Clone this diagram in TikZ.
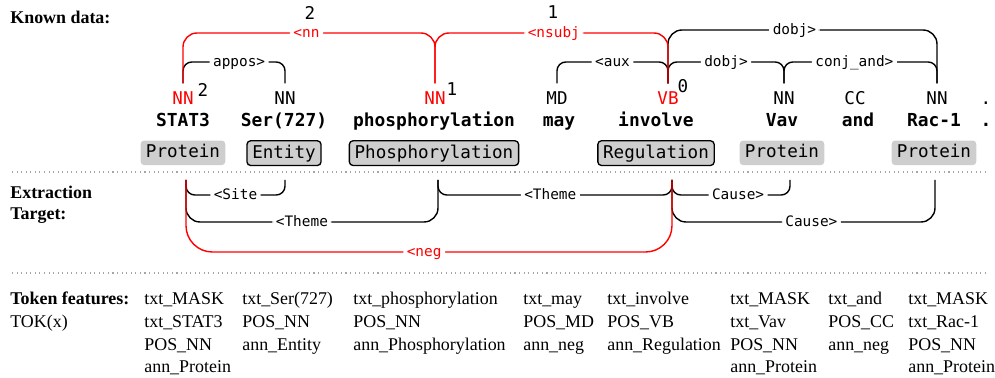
\documentclass[tikz,border=0pt]{standalone}
\usepackage{fontspec}
\setmainfont{Liberation Serif}
\setmonofont{DejaVu Sans Mono}
\usetikzlibrary{positioning}
\definecolor{boxgray}{RGB}{206,206,206}
\tikzset{
  tagtxt/.style={font=\ttfamily\fontsize{10}{12}\selectfont, anchor=base, inner sep=1pt, outer sep=4pt},
  word/.style={font=\ttfamily\bfseries\fontsize{10.2}{12}\selectfont, anchor=base, inner sep=1pt,
    text height=0.75em, text depth=0.2em},
  ent/.style={font=\ttfamily\fontsize{10}{12}\selectfont, rounded corners=2pt, fill=boxgray,
    inner xsep=3pt, inner ysep=2.2pt, text height=7.6pt, text depth=2pt},
  trig/.style={ent, draw=black, line width=0.75pt},
  arc/.style={line width=0.8pt, rounded corners=5pt},
  hiarc/.style={rounded corners=8pt},
  lab/.style={font=\ttfamily\fontsize{8.2}{10}\selectfont, fill=white, inner xsep=2pt, inner ysep=1pt,
    text height=0.7em, text depth=0.2em},
  num/.style={font=\ttfamily\fontsize{10}{12}\selectfont, inner sep=0pt},
  hdr/.style={font=\bfseries\fontsize{10.2}{12}\selectfont, align=left, anchor=north west, inner sep=0pt},
  feat/.style={font=\fontsize{10.2}{13}\selectfont, align=left, anchor=north west, inner sep=0pt},
  sep/.style={dotted, gray!70, line width=0.6pt}
}
\begin{document}
\begin{tikzpicture}[x=0.02cm, y=-0.02cm]
  \useasboundingbox (0,0) rectangle (995,378);

  % row headers
  \node[hdr, anchor=base west] (hKnown) at (10,24) {Known data:};
  \node[hdr] (hTarget) at (10,183) {\strut Extraction\\Target:};
  \node[feat] (hTok) at (10,288) {\strut\textbf{Token features:}\\TOK(x)};

  % POS tags
  \node[tagtxt, red] (tSTAT) at (183,105) {NN};
  \node[tagtxt] (tSer) at (285,105) {NN};
  \node[tagtxt, red] (tPhos) at (435,105) {NN};
  \node[tagtxt] (tMay) at (557,105) {MD};
  \node[tagtxt, red] (tInv) at (668,105) {VB};
  \node[tagtxt] (tVav) at (784,105) {NN};
  \node[tagtxt] (tAnd) at (855,105) {CC};
  \node[tagtxt] (tRac) at (937,105) {NN};
  \node[tagtxt] (tDot) at (986,105) {.};

  % depth numbers
  \node[num] (dSTAT) at (203,90) {2};
  \node[num] (dPhos) at (452,89) {1};
  \node[num] (dInv) at (683,86) {0};

  % words
  \node[word] (wSTAT) at (183,127) {STAT3};
  \node[word] (wSer) at (284,127) {Ser(727)};
  \node[word] (wPhos) at (434,127) {phosphorylation};
  \node[word] (wMay) at (559,127) {may};
  \node[word] (wInv) at (656,127) {involve};
  \node[word] (wVav) at (782,127) {Vav};
  \node[word] (wAnd) at (858,127) {and};
  \node[word] (wRac) at (934,127) {Rac-1};
  \node[word] (wDot) at (986,127) {.};

  % annotations
  \node[ent, below=4.3pt of wSTAT] (eSTAT) {Protein};
  \node[trig, below=4.3pt of wSer] (eSer) {Entity};
  \node[trig, below=4.3pt of wPhos] (ePhos) {Phosphorylation};
  \node[trig, below=4.3pt of wInv] (eInv) {Regulation};
  \node[ent, below=4.3pt of wVav] (eVav) {Protein};
  \node[ent, below=4.3pt of wRac] (eRac) {Protein};

  \draw[sep] (12,172) -- (988,172);
  \draw[sep] (12,273) -- (988,273);

  % dependency arcs
  \coordinate (hiR) at (0,33);
  \coordinate (hiB) at (0,30);
  \coordinate (lo) at (0,62);
  \draw[arc] (tSTAT.north) -- (tSTAT.north |- lo) -- node[lab, pos=.55] (lAppos) {appos>} (tSer.north |- lo) -- (tSer.north);
  \draw[arc] (tMay.north) -- (tMay.north |- lo) -- node[lab] (lAux) {<aux} (tInv.north |- lo) -- (tInv.north);
  \draw[arc] (tInv.north) -- (tInv.north |- lo) -- node[lab] (lDobj) {dobj>} (tVav.north |- lo) -- (tVav.north);
  \draw[arc] (tVav.north) -- (tVav.north |- lo) -- node[lab, pos=.46] (lConj) {conj\_and>} (tRac.north |- lo) -- (tRac.north);
  \draw[arc, hiarc] (tInv.north) -- (tInv.north |- hiB) -- node[lab, pos=.47] (lDobjB) {dobj>} (tRac.north |- hiB) -- (tRac.north);
  \draw[arc, hiarc, red] (tSTAT.north) -- (tSTAT.north |- hiR) -- node[lab, text=red, pos=.49] (lNn) {<nn} (tPhos.north |- hiR) -- (tPhos.north);
  \draw[arc, hiarc, red] (tPhos.north) -- (tPhos.north |- hiR) -- node[lab, text=red, pos=.51] (lNsubj) {<nsubj} (tInv.north |- hiR) -- (tInv.north);
  \node[num] (dNn) at (310,13) {2};
  \node[num] (dNsubj) at (553,12) {1};

  % extraction target
  \coordinate (bSTAT) at (186,180);
  \coordinate (bSer) at (285,180);
  \coordinate (bPhos) at (438,180);
  \coordinate (bInv) at (672,180);
  \coordinate (bVav) at (790,180);
  \coordinate (bRac) at (935,180);
  \coordinate (lvA) at (0,195);
  \coordinate (lvB) at (0,222);
  \coordinate (lvC) at (0,252);
  \draw[arc] (bSTAT) -- (bSTAT |- lvA) -- node[lab] (lSite) {<Site} (bSer |- lvA) -- (bSer);
  \draw[arc, hiarc] (bSTAT) -- (bSTAT |- lvB) -- node[lab, pos=.46] (lTheme) {<Theme} (bPhos |- lvB) -- (bPhos);
  \draw[arc] (bPhos) -- (bPhos |- lvA) -- node[lab, pos=.48] (lThemeB) {<Theme} (bInv |- lvA) -- (bInv);
  \draw[arc] (bInv) -- (bInv |- lvA) -- node[lab, pos=.56] (lCause) {Cause>} (bVav |- lvA) -- (bVav);
  \draw[arc, hiarc] (bInv) -- (bInv |- lvB) -- node[lab, pos=.53] (lCauseB) {Cause>} (bRac |- lvB) -- (bRac);
  \draw[arc, red, rounded corners=15pt] (bSTAT) -- (bSTAT |- lvC) -- node[lab, text=red, pos=.49] (lNeg) {<neg} (bInv |- lvC) -- (bInv);

  % token features
  \foreach \x/\t in {144/{txt\_MASK\\txt\_STAT3\\POS\_NN\\ann\_Protein},
                     242/{txt\_Ser(727)\\POS\_NN\\ann\_Entity},
                     353/{txt\_phosphorylation\\POS\_NN\\ann\_Phosphorylation},
                     523/{txt\_may\\POS\_MD\\ann\_neg},
                     607/{txt\_involve\\POS\_VB\\ann\_Regulation},
                     730/{txt\_MASK\\txt\_Vav\\POS\_NN\\ann\_Protein},
                     828/{txt\_and\\POS\_CC\\ann\_neg},
                     908/{txt\_MASK\\txt\_Rac-1\\POS\_NN\\ann\_Protein}}
    \node[feat] (f\x) at (\x,288) {\strut\t};
\end{tikzpicture}
\end{document}
